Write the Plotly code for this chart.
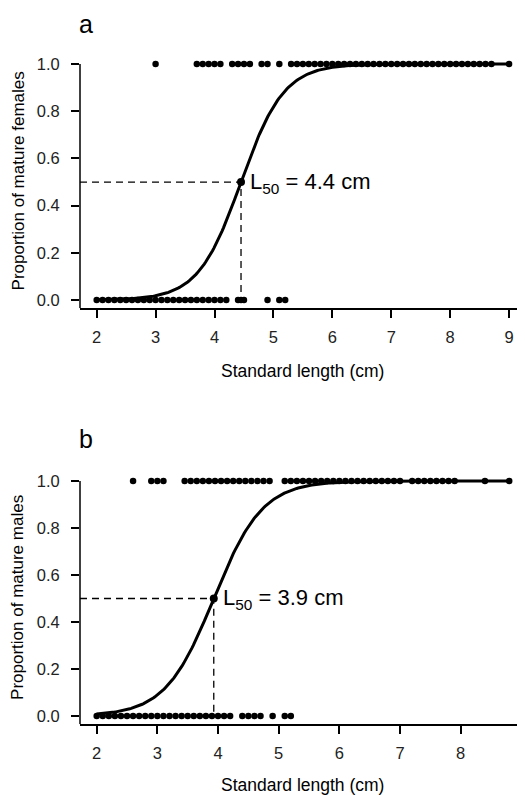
import numpy as np
import plotly.graph_objects as go

# ---------------- data ----------------
# Panel a: females (standard length, cm)
fem_mature_len = [3.0, 3.7, 3.8, 3.9, 4.0, 4.1, 4.3, 4.4, 4.5, 4.6, 4.8, 4.9, 5.1,
                  5.3, 5.4, 5.5, 5.6, 5.7, 5.8, 5.9, 6.0, 6.1, 6.2, 6.3, 6.4, 6.5,
                  6.6, 6.7, 6.8, 6.9, 7.0, 7.1, 7.2, 7.3, 7.4, 7.5, 7.6, 7.7, 7.8,
                  7.9, 8.0, 8.1, 8.2, 8.3, 8.4, 8.5, 8.6, 8.7, 9.0]
fem_immature_len = [2.0, 2.1, 2.2, 2.3, 2.4, 2.5, 2.6, 2.7, 2.8, 2.9, 3.0, 3.1, 3.2,
                    3.3, 3.4, 3.5, 3.6, 3.7, 3.8, 3.9, 4.0, 4.1, 4.2, 4.4, 4.45,
                    4.5, 4.9, 5.1, 5.2]
fem_L50 = 4.45
fem_slope = 2.75
fem_label = "L<sub>50</sub> = 4.4 cm"

# Panel b: males (standard length, cm)
male_mature_len = [2.6, 2.9, 3.0, 3.1, 3.45, 3.55, 3.65, 3.75, 3.85, 3.95, 4.05,
                   4.15, 4.25, 4.35, 4.45, 4.55, 4.65, 4.75, 4.85, 5.1, 5.2, 5.3,
                   5.4, 5.5, 5.6, 5.7, 5.8, 5.9, 6.0, 6.1, 6.2, 6.3, 6.4, 6.5, 6.6,
                   6.7, 6.8, 6.9, 7.0, 7.2, 7.3, 7.4, 7.5, 7.6, 7.7, 7.8, 7.9, 8.4,
                   8.8]
male_immature_len = [2.0, 2.1, 2.2, 2.3, 2.4, 2.5, 2.6, 2.7, 2.8, 2.9, 3.0, 3.1,
                     3.2, 3.3, 3.4, 3.5, 3.6, 3.7, 3.8, 3.9, 4.0, 4.1, 4.2, 4.4,
                     4.5, 4.6, 4.7, 4.9, 5.1, 5.2]
male_L50 = 3.93
male_slope = 2.5
male_label = "L<sub>50</sub> = 3.9 cm"

x_ticks = [2, 3, 4, 5, 6, 7, 8, 9]
y_ticks = [0.0, 0.2, 0.4, 0.6, 0.8, 1.0]
x_title = "Standard length (cm)"
y_title_a = "Proportion of mature females"
y_title_b = "Proportion of mature males"

# ---------------- layout helpers ----------------
# The page places the figure with an 8px body margin, so the figure is made
# 8px smaller and all screen positions are measured from that offset.
OFF = 8
W, H = 525 - OFF, 795 - OFF
FONT = "Liberation Sans, Arial, sans-serif"


def px_x(p):
    return (p - OFF) / W


def px_y(p):
    return 1 - (p - OFF) / H


fig = go.Figure()

panels = [
    dict(xa="x", ya="y", mature=fem_mature_len, immature=fem_immature_len,
         L50=fem_L50, k=fem_slope, label=fem_label, ytitle=y_title_a,
         xrange=[1.717, 9.27], top=54.6, bottom=308.3, letter="a", letter_top=8.5,
         xtitle_y=371),
    dict(xa="x2", ya="y2", mature=male_mature_len, immature=male_immature_len,
         L50=male_L50, k=male_slope, label=male_label, ytitle=y_title_b,
         xrange=[1.725, 9.06], top=471.6, bottom=724.2, letter="b", letter_top=424,
         xtitle_y=785),
]

YMIN, YMAX = -0.035, 1.04

for i, p in enumerate(panels):
    allx = p["mature"] + p["immature"]
    lo, hi = min(allx), max(allx)
    xc = np.linspace(lo, hi, 300)
    yc = 1.0 / (1.0 + np.exp(-p["k"] * (xc - p["L50"])))

    # dashed guides
    fig.add_trace(go.Scatter(x=[p["xrange"][0], p["L50"], p["L50"]], y=[0.5, 0.5, 0.0],
                             mode="lines", line=dict(color="black", width=1.3, dash="7px,5px"),
                             xaxis=p["xa"], yaxis=p["ya"], showlegend=False, hoverinfo="skip"))
    # observations
    fig.add_trace(go.Scatter(x=p["mature"], y=[1.0] * len(p["mature"]), mode="markers",
                             marker=dict(color="black", size=6.5), cliponaxis=False,
                             xaxis=p["xa"], yaxis=p["ya"], showlegend=False))
    fig.add_trace(go.Scatter(x=p["immature"], y=[0.0] * len(p["immature"]), mode="markers",
                             marker=dict(color="black", size=6.5), cliponaxis=False,
                             xaxis=p["xa"], yaxis=p["ya"], showlegend=False))
    # logistic curve
    fig.add_trace(go.Scatter(x=xc, y=yc, mode="lines", line=dict(color="black", width=3),
                             xaxis=p["xa"], yaxis=p["ya"], showlegend=False, hoverinfo="skip"))
    # L50 point
    fig.add_trace(go.Scatter(x=[p["L50"]], y=[0.5], mode="markers",
                             marker=dict(color="black", size=8), cliponaxis=False,
                             xaxis=p["xa"], yaxis=p["ya"], showlegend=False))

    fig.add_annotation(x=p["L50"], y=0.5, xref=p["xa"], yref=p["ya"], text=p["label"],
                       showarrow=False, xanchor="left", yanchor="middle", xshift=7, yshift=-1,
                       font=dict(family=FONT, size=22, color="black"))

    # y axis line (from bottom of plot to 1.0)
    fig.add_shape(type="line", xref=f"{p['xa']} domain", yref=p["ya"], x0=0, x1=0,
                  y0=YMIN, y1=1.0, line=dict(color="black", width=1.5))

    # axis titles
    fig.add_annotation(x=px_x(18), y=px_y((p["top"] + p["bottom"]) / 2), xref="paper",
                       yref="paper", text=p["ytitle"], textangle=-90, showarrow=False,
                       xanchor="center", yanchor="middle",
                       font=dict(family=FONT, size=17, color="black"))
    fig.add_annotation(x=px_x((80 + 525) / 2), y=px_y(p["xtitle_y"]), xref="paper",
                       yref="paper", text=x_title, showarrow=False,
                       xanchor="center", yanchor="middle",
                       font=dict(family=FONT, size=17.5, color="black"))
    # panel letter
    fig.add_annotation(x=px_x(86), y=px_y(p["letter_top"]), xref="paper", yref="paper",
                       text=p["letter"], showarrow=False, xanchor="center", yanchor="top",
                       borderpad=0, font=dict(family=FONT, size=25, color="black"))

    axis_common = dict(showgrid=False, zeroline=False, ticks="outside", ticklen=8,
                       tickwidth=1.5, tickcolor="black",
                       tickfont=dict(family=FONT, size=16.5, color="#222"))
    xkey = "xaxis" if i == 0 else "xaxis2"
    ykey = "yaxis" if i == 0 else "yaxis2"
    fig.update_layout(**{
        xkey: dict(domain=[px_x(80), 1.0], range=p["xrange"], anchor=p["ya"],
                   tickvals=x_ticks, showline=True, linecolor="black", linewidth=1.5,
                   ticklabelstandoff=5, **axis_common),
        ykey: dict(domain=[px_y(p["bottom"]), px_y(p["top"])], range=[YMIN, YMAX],
                   anchor=p["xa"], tickvals=y_ticks, tickformat=".1f", showline=False,
                   ticklabelstandoff=8, **axis_common),
    })

fig.update_layout(width=W, height=H, margin=dict(l=0, r=0, t=0, b=0),
                  plot_bgcolor="white", paper_bgcolor="white", showlegend=False,
                  font=dict(family=FONT))

fig.write_html("out.html")
